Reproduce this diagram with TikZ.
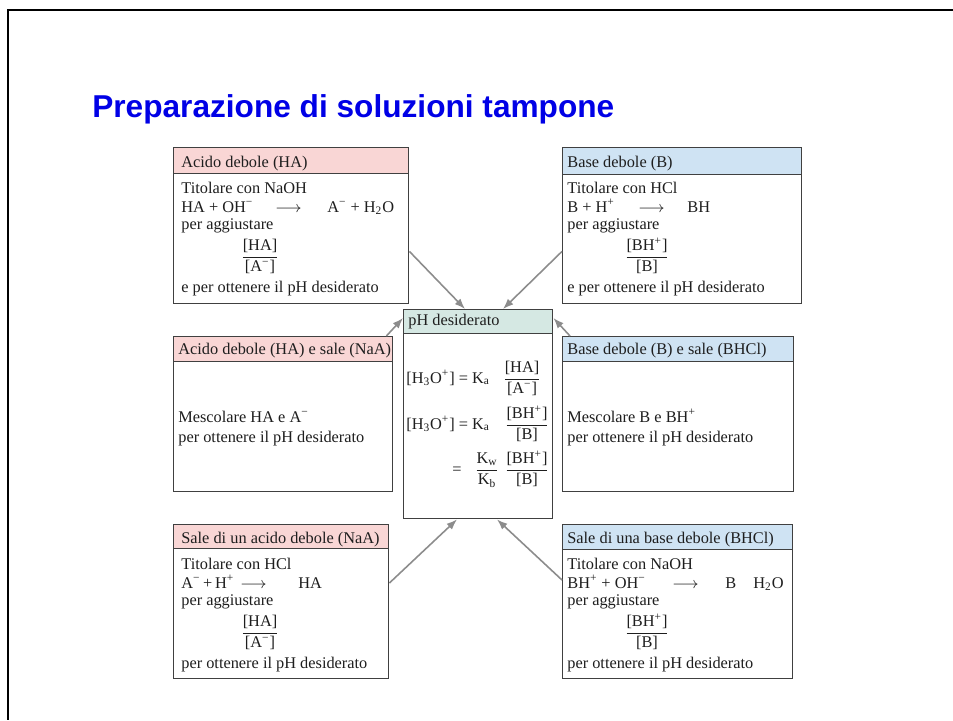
\documentclass[tikz,border=0pt]{standalone}
\usepackage{fontspec}
\setmainfont{Liberation Serif}
\newfontfamily\titlefont{Liberation Sans}
\usetikzlibrary{arrows.meta,calc}

\definecolor{acidhdr}{RGB}{249,214,213}
\definecolor{basehdr}{RGB}{207,227,243}
\definecolor{phhdr}{RGB}{213,232,227}
\definecolor{boxline}{RGB}{64,64,64}
\definecolor{arrowgray}{RGB}{140,140,140}
\definecolor{titleblue}{RGB}{0,0,230}
\definecolor{inktext}{RGB}{30,30,30}

\newcommand{\px}{0.02cm}
\newcommand{\chneg}{\textsuperscript{−}}
\newcommand{\chpos}{\textsuperscript{+}}
\newcommand{\conc}[2]{${\displaystyle\frac{\mbox{#1}}{\mbox{#2}}}$}
\newcommand{\yields}{$\longrightarrow$}

\begin{document}
\begin{tikzpicture}[
    x=\px, y=-\px,
    box/.style 2 args={draw=boxline, line width=0.8pt, fill=white, anchor=north west, inner sep=0pt, minimum width=#1*\px, minimum height=#2*\px},
    txt/.style={anchor=base west, inner sep=0pt, text=inktext, font=\fontsize{9.3}{11}\selectfont},
    frac/.style={anchor=base, inner sep=0pt, text=inktext, font=\fontsize{9.3}{11}\selectfont},
    feed/.style={draw=arrowgray, line width=0.9pt, -{Latex[length=6pt,width=4.5pt]}},
    frame/.style={draw=black, line width=1.7pt},
    title/.style={anchor=base west, inner sep=0pt, text=titleblue, font=\titlefont\bfseries\fontsize{18}{20}\selectfont}
]
\useasboundingbox (0,0) rectangle (953,720);

% === Slide frame and title ===
\draw[frame] (953,10) -- (8,10) -- (8,720);
\node[title] (ttl) at (92,117) {Preparazione di soluzioni tampone};

% === Top left: weak acid ===
\node[box={235}{156}] (tl) at (173,147) {};
\node[box={235}{26}, fill=acidhdr] (tlh) at (173,147) {};
\node[txt] (tlh1) at (181,167) {Acido debole (HA)};
\node[txt] (tl1) at (181,193) {Titolare con NaOH};
\node[txt] (tl2) at (181,212) {HA + OH\chneg};
\node[txt] (tl3) at (275,212) {\yields};
\node[txt] (tl4) at (327,212) {A\chneg{} + H\textsubscript{2}O};
\node[txt] (tl5) at (181,229) {per aggiustare};
\node[frac] (tl6) at (260,261) {\conc{[HA]}{[A\chneg]}};
\node[txt] (tl7) at (181,292) {e per ottenere il pH desiderato};

% === Top right: weak base ===
\node[box={239}{156}] (tr) at (562,147) {};
\node[box={239}{27}, fill=basehdr] (trh) at (562,147) {};
\node[txt] (trh1) at (567,167) {Base debole (B)};
\node[txt] (tr1) at (567,193) {Titolare con HCl};
\node[txt] (tr2) at (567,212) {B + H\chpos};
\node[txt] (tr3) at (638,212) {\yields};
\node[txt] (tr4) at (687,212) {BH};
\node[txt] (tr5) at (567,229) {per aggiustare};
\node[frac] (tr6) at (647,261) {\conc{[BH\chpos]}{[B]}};
\node[txt] (tr7) at (567,292) {e per ottenere il pH desiderato};

% === Middle left: acid and salt ===
\node[box={219}{155}] (ml) at (173,336) {};
\node[box={219}{25}, fill=acidhdr] (mlh) at (173,336) {};
\node[txt] (mlh1) at (178,354) {Acido debole (HA) e sale (NaA)};
\node[txt] (ml1) at (178,422) {Mescolare HA e A\chneg};
\node[txt] (ml2) at (178,442) {per ottenere il pH desiderato};

% === Middle right: base and salt ===
\node[box={231}{155}] (mr) at (562,336) {};
\node[box={231}{25}, fill=basehdr] (mrh) at (562,336) {};
\node[txt] (mrh1) at (567,354) {Base debole (B) e sale (BHCl)};
\node[txt] (mr1) at (567,422) {Mescolare B e BH\chpos};
\node[txt] (mr2) at (567,442) {per ottenere il pH desiderato};

% === Bottom left: salt of weak acid ===
\node[box={215}{154}] (bl) at (173,524) {};
\node[box={215}{24}, fill=acidhdr] (blh) at (173,524) {};
\node[txt] (blh1) at (181,543) {Sale di un acido debole (NaA)};
\node[txt] (bl1) at (181,569) {Titolare con HCl};
\node[txt] (bl2) at (181,588) {A\chneg\,+\,H\chpos};
\node[txt] (bl3) at (240,588) {\yields};
\node[txt] (bl4) at (298,588) {HA};
\node[txt] (bl5) at (181,605) {per aggiustare};
\node[frac] (bl6) at (260,637) {\conc{[HA]}{[A\chneg]}};
\node[txt] (bl7) at (181,668) {per ottenere il pH desiderato};

% === Bottom right: salt of weak base ===
\node[box={230}{154}] (br) at (562,524) {};
\node[box={230}{25}, fill=basehdr] (brh) at (562,524) {};
\node[txt] (brh1) at (567,543) {Sale di una base debole (BHCl)};
\node[txt] (br1) at (567,569) {Titolare con NaOH};
\node[txt] (br2) at (567,588) {BH\chpos{} + OH\chneg};
\node[txt] (br3) at (672,588) {\yields};
\node[txt] (br4) at (725,588) {B};
\node[txt] (br5) at (753,588) {H\textsubscript{2}O};
\node[txt] (br6) at (567,605) {per aggiustare};
\node[frac] (br7) at (647,637) {\conc{[BH\chpos]}{[B]}};
\node[txt] (br8) at (567,668) {per ottenere il pH desiderato};

% === Centre: desired pH ===
\node[box={149}{209}] (ph) at (403,309) {};
\node[box={149}{24}, fill=phhdr] (phh) at (403,309) {};
\node[txt] (phh1) at (408,325) {pH desiderato};
\node[txt] (ph1) at (406,383) {[H\textsubscript{3}O\chpos] = K\textsubscript{a}};
\node[frac] (ph2) at (522,383) {\conc{[HA]}{[A\chneg]}};
\node[txt] (ph3) at (406,429) {[H\textsubscript{3}O\chpos] = K\textsubscript{a}};
\node[frac] (ph4) at (527,429) {\conc{[BH\chpos]}{[B]}};
\node[txt] (ph5) at (452,474) {=};
\node[frac] (ph6) at (487,474) {\conc{K\textsubscript{w}}{K\textsubscript{b}}};
\node[frac] (ph7) at (527,474) {\conc{[BH\chpos]}{[B]}};

% === Arrows into the centre ===
\draw[feed] ($(tl.south east)+(0,-53)$) -- ($(ph.north west)+(62,0)$);
\draw[feed] ($(tr.south west)+(0,-53)$) -- ($(ph.north west)+(100,0)$);
\draw[feed] ($(ml.north east)+(-7,0)$) -- ($(ph.north west)+(0,9)$);
\draw[feed] ($(mr.north west)+(8,0)$) -- ($(ph.north east)+(0,9)$);
\draw[feed] ($(bl.north east)+(0,59)$) -- ($(ph.south west)+(54,0)$);
\draw[feed] ($(br.north west)+(0,56)$) -- ($(ph.south west)+(94,0)$);

\end{tikzpicture}
\end{document}
